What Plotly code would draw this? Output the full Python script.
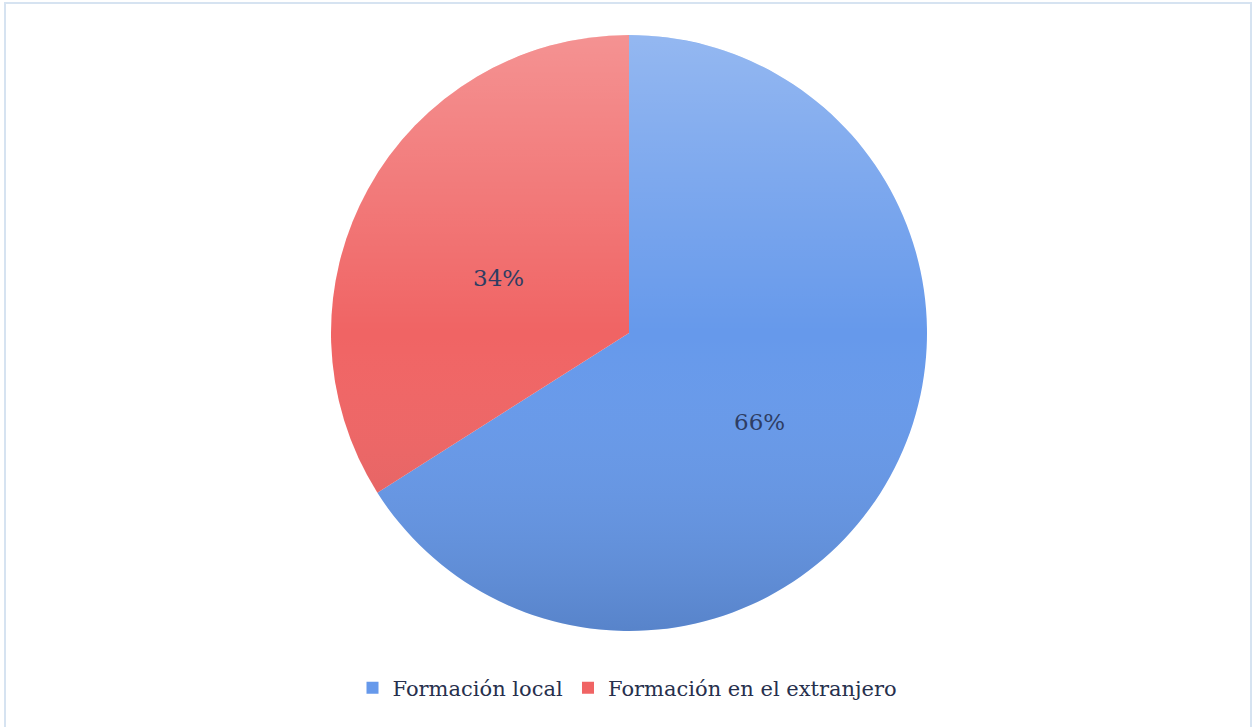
import base64
import math
import plotly.graph_objects as go

# Share of professionals by place of training
categories = ["Formación local", "Formación en el extranjero"]
shares = [66, 34]
slice_colors = ["#6699eb", "#f06464"]

W, H = 1255, 727
# pie domain in pixels (square), converted to paper fractions
px_left, px_right, px_top, px_bottom = 331, 927, 35, 631
dom_x = [px_left / W, px_right / W]
dom_y = [1 - px_bottom / H, 1 - px_top / H]

label_font = dict(family="DejaVu Serif", size=23, color="#2e3d63")

fig = go.Figure(
    go.Pie(
        labels=categories,
        values=shares,
        sort=False,
        direction="clockwise",
        rotation=0,
        marker=dict(colors=slice_colors, line=dict(width=0)),
        textinfo="none",
        domain=dict(x=dom_x, y=dom_y),
        hoverinfo="label+percent",
    )
)

# percentage labels placed at mid-angle of each slice, half-way out
cx = (px_left + px_right) / 2
cy = (px_top + px_bottom) / 2
radius = (px_right - px_left) / 2
total = sum(shares)
annotations = []
cum = 0
for v in shares:
    mid = (cum + v / 2) / total * 2 * math.pi  # clockwise from 12 o'clock
    cum += v
    lx = cx + 0.5 * radius * math.sin(mid)
    ly = cy - 0.5 * radius * math.cos(mid)
    annotations.append(
        dict(
            x=lx / W,
            y=1 - ly / H,
            xref="paper",
            yref="paper",
            text=f"{round(v / total * 100)}%",
            showarrow=False,
            yshift=-17,
            font=label_font,
        )
    )

# soft vertical shading over the disc (light at the top, deeper at the bottom)
svg = (
    '<svg xmlns="http://www.w3.org/2000/svg" width="100" height="100" '
    'viewBox="0 0 100 100" preserveAspectRatio="none">'
    '<defs><linearGradient id="g" x1="0" y1="0" x2="0" y2="1">'
    '<stop offset="0" stop-color="#ffffff" stop-opacity="0.30"/>'
    '<stop offset="0.5" stop-color="#ffffff" stop-opacity="0.0"/>'
    '<stop offset="1" stop-color="#000000" stop-opacity="0.14"/>'
    '</linearGradient></defs>'
    '<circle cx="50" cy="50" r="50" fill="url(#g)"/></svg>'
)
src = "data:image/svg+xml;base64," + base64.b64encode(svg.encode()).decode()

fig.update_layout(
    width=W,
    height=H,
    margin=dict(l=0, r=0, t=0, b=0),
    paper_bgcolor="white",
    plot_bgcolor="white",
    showlegend=True,
    annotations=annotations,
    legend=dict(
        orientation="h",
        x=0.5,
        xanchor="center",
        y=1 - 688 / H,
        yanchor="middle",
        font=dict(family="DejaVu Serif", size=21, color="#27304d"),
        itemwidth=30,
        itemsizing="constant",
    ),
    images=[
        dict(
            source=src,
            xref="paper",
            yref="paper",
            x=dom_x[0],
            y=dom_y[1],
            sizex=dom_x[1] - dom_x[0],
            sizey=dom_y[1] - dom_y[0],
            sizing="stretch",
            xanchor="left",
            yanchor="top",
            layer="above",
        )
    ],
    shapes=[
        dict(
            type="rect",
            xref="paper",
            yref="paper",
            x0=5 / W,
            x1=1251 / W,
            y0=-0.02,
            y1=1 - 3 / H,
            line=dict(color="#d6e3f1", width=2),
            fillcolor="rgba(0,0,0,0)",
        )
    ],
)

fig.write_html("out.html")
